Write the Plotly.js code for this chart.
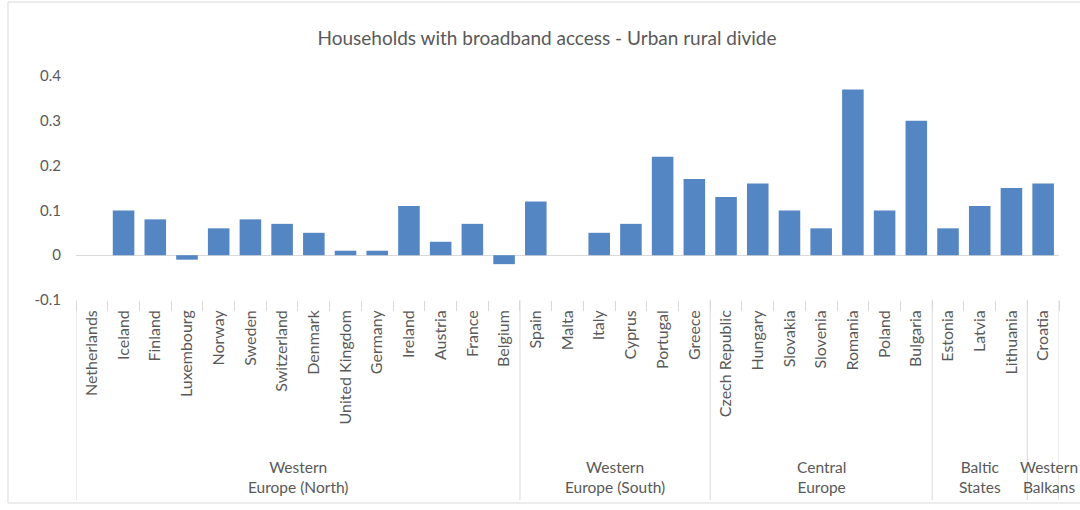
<!DOCTYPE html>
<html>
<head>
<meta charset="utf-8">
<script src="https://cdn.plot.ly/plotly-3.0.1.min.js"></script>
<style>html,body{margin:0;padding:0;background:#fff;}#chart{width:1080px;height:510px;}</style>
</head>
<body>
<div id="chart"></div>
<script>
const categories = ["Netherlands","Iceland","Finland","Luxembourg","Norway","Sweden","Switzerland","Denmark","United Kingdom","Germany","Ireland","Austria","France","Belgium",
  "Spain","Malta","Italy","Cyprus","Portugal","Greece",
  "Czech Republic","Hungary","Slovakia","Slovenia","Romania","Poland","Bulgaria",
  "Estonia","Latvia","Lithuania",
  "Croatia"];
const values = [null,0.10,0.08,-0.01,0.06,0.08,0.07,0.05,0.01,0.01,0.11,0.03,0.07,-0.02,
  0.12,null,0.05,0.07,0.22,0.17,
  0.13,0.16,0.10,0.06,0.37,0.10,0.30,
  0.06,0.11,0.15,
  0.16];
const groupNames = ["Western<br>Europe (North)","Western<br>Europe (South)","Central<br>Europe","Baltic<br>States","Western<br>Balkans"];
const groupCounts = [14,6,7,3,1];
const yTickVals = [-0.1,0,0.1,0.2,0.3,0.4];
const yTickText = ["-0.1","0","0.1","0.2","0.3","0.4"];

const gray = "#595959";
const lineGray = "#d9d9d9";
const plotH = 224;
const sepBottom = -(200/plotH);
const fontFam = "Lato, 'Open Sans', sans-serif";

const shapes = [];
const annotations = [];
let start = 0;
const bounds = [-0.5];
groupCounts.forEach((n, i) => {
  const center = start + (n - 1) / 2;
  annotations.push({
    x: center, xref: "x", y: -(177/plotH), yref: "paper",
    text: groupNames[i], showarrow: false, xanchor: "center", yanchor: "middle",
    xshift: (i === groupCounts.length - 1) ? 6 : 0,
    font: {family: fontFam, size: 15.5, color: gray}
  });
  start += n;
  bounds.push(start - 0.5);
});
bounds.forEach(b => {
  shapes.push({type: "line", xref: "x", yref: "paper", x0: b, x1: b, y0: 0, y1: sepBottom,
    line: {color: lineGray, width: 1}});
});
shapes.push({type: "rect", xref: "paper", yref: "paper",
  x0: (8-76)/983, x1: (1090-76)/983, y0: (300-503)/plotH, y1: (300-2)/plotH,
  line: {color: lineGray, width: 1}});

const trace = {
  type: "bar", x: categories, y: values,
  marker: {color: "#5586c4"},
  hoverinfo: "x+y"
};

const layout = {
  width: 1080, height: 510,
  margin: {l: 76, r: 21, t: 76, b: 210},
  paper_bgcolor: "#fff", plot_bgcolor: "#fff",
  bargap: 0.32,
  showlegend: false,
  title: {
    text: "Households with broadband access - Urban rural divide",
    x: 547/1080, xref: "container", xanchor: "center",
    y: 1 - 38/510, yref: "container", yanchor: "middle",
    font: {family: fontFam, size: 19, color: gray}
  },
  xaxis: {
    type: "category", range: [-0.5, 30.5],
    tickangle: -90, tickson: "boundaries", ticks: "outside", ticklen: 10, tickcolor: lineGray,
    ticklabelstandoff: 6,
    showline: false, showgrid: false, zeroline: false,
    tickfont: {family: fontFam, size: 16, color: gray},
    fixedrange: true
  },
  yaxis: {
    range: [-0.1, 0.4], tickvals: yTickVals, ticktext: yTickText,
    showgrid: false, zeroline: true, zerolinecolor: lineGray, zerolinewidth: 1,
    showline: false, ticks: "", ticklabelstandoff: 14,
    tickfont: {family: fontFam, size: 15, color: gray},
    fixedrange: true
  },
  shapes: shapes,
  annotations: annotations
};

Plotly.newPlot("chart", [trace], layout, {displayModeBar: false, staticPlot: true});
</script>
</body>
</html>
